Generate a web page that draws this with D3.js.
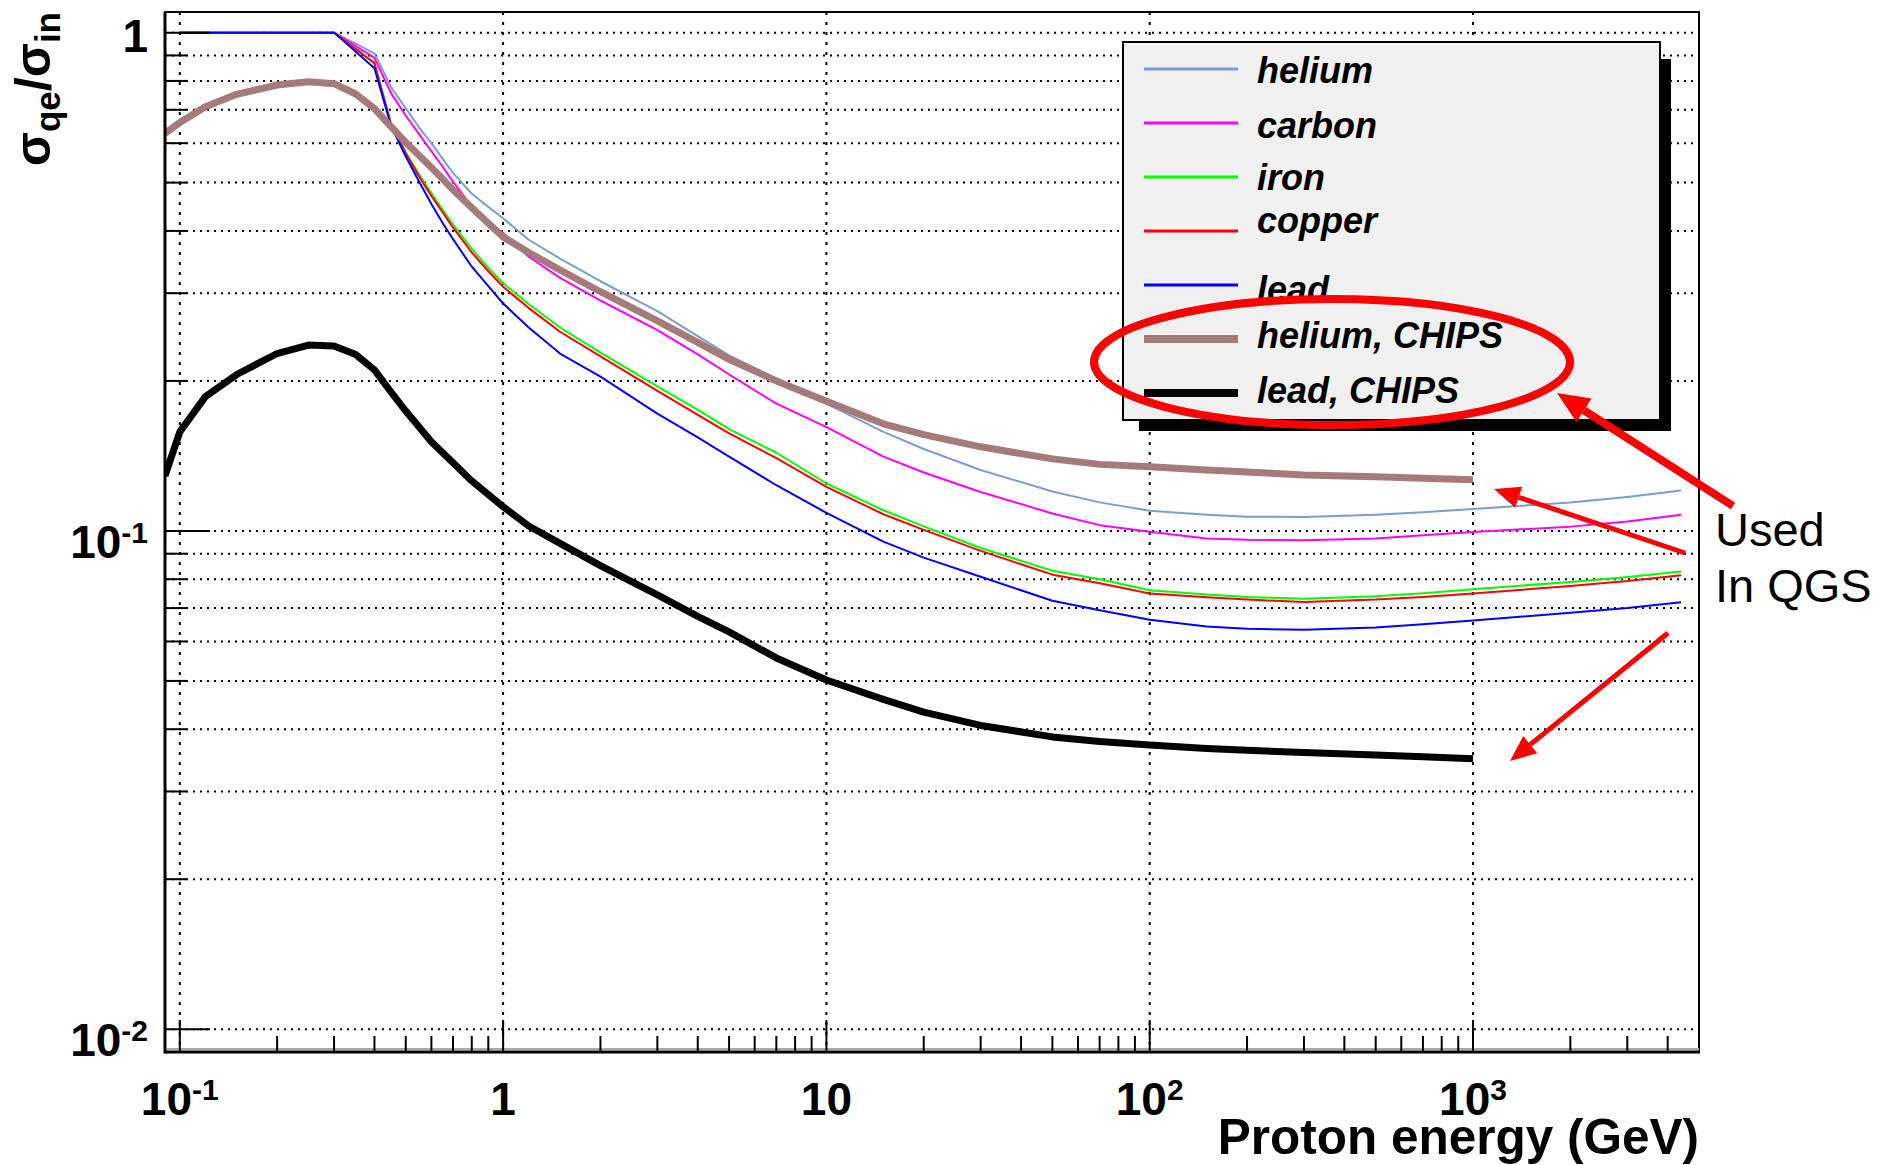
<!DOCTYPE html>
<meta charset="utf-8">
<style>
  body { margin: 0; background: #fff; }
  svg text { font-family: "Liberation Sans", Arial, sans-serif; }
</style>
<body></body>
<script src="https://d3js.org/d3.v7.min.js"></script>
<script>

// Glauber-type curves (helium ... lead)
var energies = [0.1, 0.2, 0.3, 0.4, 0.45, 0.5, 0.55, 0.6, 0.65, 0.7, 0.8, 0.9, 1, 1.2, 1.5, 2, 3, 4, 5, 7, 10, 15, 20, 30, 50, 70, 100, 150, 200, 300, 500, 700, 1000, 2000, 3000, 4400];
var helium = [1, 1, 1, 0.909, 0.778, 0.705, 0.645, 0.600, 0.558, 0.523, 0.475, 0.447, 0.424, 0.384, 0.352, 0.317, 0.276, 0.246, 0.225, 0.202, 0.180, 0.158, 0.146, 0.1325, 0.120, 0.1141, 0.1098, 0.1078, 0.1068, 0.1066, 0.1078, 0.109, 0.1107, 0.114, 0.117, 0.1205];
var carbon = [1, 1, 1, 0.89, 0.756, 0.681, 0.625, 0.578, 0.538, 0.502, 0.448, 0.417, 0.396, 0.355, 0.322, 0.290, 0.253, 0.226, 0.206, 0.180, 0.1615, 0.141, 0.131, 0.1197, 0.1084, 0.1027, 0.0996, 0.0966, 0.0960, 0.0958, 0.0965, 0.098, 0.0995, 0.102, 0.1045, 0.1078];
var iron = [1, 1, 1, 0.868, 0.658, 0.575, 0.519, 0.476, 0.441, 0.412, 0.368, 0.337, 0.314, 0.285, 0.256, 0.228, 0.195, 0.175, 0.160, 0.1435, 0.1245, 0.110, 0.1021, 0.0924, 0.0832, 0.0800, 0.0760, 0.0745, 0.0737, 0.0731, 0.0739, 0.0750, 0.0764, 0.0790, 0.0808, 0.0829];
var copper = [1, 1, 1, 0.868, 0.655, 0.572, 0.514, 0.470, 0.436, 0.406, 0.362, 0.332, 0.309, 0.280, 0.251, 0.224, 0.191, 0.171, 0.157, 0.140, 0.1226, 0.108, 0.1005, 0.0912, 0.0817, 0.0785, 0.0749, 0.0736, 0.0728, 0.0720, 0.0728, 0.0737, 0.0749, 0.0775, 0.0793, 0.0815];
var lead = [1, 1, 1, 0.848, 0.65, 0.564, 0.502, 0.453, 0.415, 0.385, 0.339, 0.310, 0.286, 0.256, 0.227, 0.204, 0.172, 0.154, 0.141, 0.1235, 0.1087, 0.0952, 0.0884, 0.0809, 0.0724, 0.0693, 0.0663, 0.0643, 0.0636, 0.0633, 0.0640, 0.0650, 0.0661, 0.0685, 0.0700, 0.0719];

// CHIPS curves
var chipsEnergies = [0.09, 0.1, 0.12, 0.15, 0.2, 0.25, 0.3, 0.35, 0.4, 0.45, 0.5, 0.6, 0.7, 0.8, 1, 1.2, 1.5, 2, 3, 4, 5, 7, 10, 15, 20, 30, 50, 70, 100, 150, 200, 300, 500, 700, 1000];
var heliumChips = [0.628, 0.66, 0.71, 0.752, 0.785, 0.797, 0.79, 0.753, 0.704, 0.648, 0.602, 0.536, 0.484, 0.445, 0.389, 0.362, 0.334, 0.302, 0.264, 0.239, 0.221, 0.200, 0.182, 0.164, 0.156, 0.1475, 0.1395, 0.136, 0.1345, 0.1325, 0.1313, 0.1295, 0.1285, 0.1276, 0.1267];
var leadChips = [0.129, 0.158, 0.186, 0.206, 0.227, 0.236, 0.235, 0.226, 0.2105, 0.190, 0.174, 0.151, 0.137, 0.126, 0.1118, 0.1023, 0.0944, 0.0852, 0.0744, 0.0674, 0.0627, 0.0556, 0.0502, 0.0459, 0.0433, 0.0407, 0.0386, 0.0378, 0.0372, 0.0366, 0.0363, 0.0359, 0.0355, 0.0352, 0.0349];

var seriesNames = ["helium", "carbon", "iron", "copper", "lead", "helium, CHIPS", "lead, CHIPS"];

var xTicks = [0.1, 1, 10, 100, 1000];
var xTickLabels = [["10", "-1"], ["1", ""], ["10", ""], ["10", "2"], ["10", "3"]];
var yTicks = [0.01, 0.1, 1];
var yTickLabels = [["10", "-2"], ["10", "-1"], ["1", ""]];

var W = 1879, H = 1165;
var frame = {left: 165, right: 1699, top: 12, bottom: 1052};

var svg = d3.select("body").append("svg")
    .attr("width", W)
    .attr("height", H);

var x = d3.scaleLog().domain([0.09, 5000]).range([frame.left, frame.right]);
var y = d3.scaleLog().domain([0.009, 1.1]).range([frame.bottom, frame.top]);

function isDecade(v) {
    var l = Math.log10(v);
    return Math.abs(l - Math.round(l)) < 1e-6;
}

// grid
var yMinor = y.ticks().filter(function(d) { return d >= 0.00999 && d <= 1.0001; });
var xMinor = x.ticks().filter(function(d) { return d >= 0.0999 && d < 4999; });

var grid = svg.append("g").attr("stroke", "#000").attr("stroke-width", 2);
grid.selectAll(".hg").data(yMinor).enter().append("line")
    .attr("x1", frame.left).attr("x2", frame.right)
    .attr("y1", function(d) { return y(d); })
    .attr("y2", function(d) { return y(d); })
    .attr("stroke-dasharray", "2,5");
grid.selectAll(".vg").data(xTicks).enter().append("line")
    .attr("y1", frame.top).attr("y2", frame.bottom)
    .attr("x1", function(d) { return x(d); })
    .attr("x2", function(d) { return x(d); })
    .attr("stroke-dasharray", "3,7");

// curves
svg.append("clipPath").attr("id", "clip").append("rect")
    .attr("x", frame.left).attr("y", frame.top)
    .attr("width", frame.right - frame.left).attr("height", frame.bottom - frame.top);

var series = [
    {name: seriesNames[0], xs: energies, ys: helium, color: "#7b9cd6", w: 2},
    {name: seriesNames[1], xs: energies, ys: carbon, color: "#ff00ff", w: 2},
    {name: seriesNames[2], xs: energies, ys: iron, color: "#00ff00", w: 2},
    {name: seriesNames[3], xs: energies, ys: copper, color: "#ff0000", w: 2},
    {name: seriesNames[4], xs: energies, ys: lead, color: "#0000ff", w: 2},
    {name: seriesNames[5], xs: chipsEnergies, ys: heliumChips, color: "#a47a7a", w: 7},
    {name: seriesNames[6], xs: chipsEnergies, ys: leadChips, color: "#000000", w: 7}
];

var line = d3.line()
    .x(function(d) { return x(d[0]); })
    .y(function(d) { return y(d[1]); });

svg.append("g").attr("clip-path", "url(#clip)")
    .selectAll("path").data(series).enter().append("path")
    .attr("d", function(s) { return line(d3.zip(s.xs, s.ys)); })
    .attr("fill", "none")
    .attr("stroke", function(s) { return s.color; })
    .attr("stroke-width", function(s) { return s.w; })
    .attr("stroke-linejoin", "round");

// frame and axes
svg.append("rect")
    .attr("x", frame.left).attr("y", frame.top)
    .attr("width", frame.right - frame.left).attr("height", frame.bottom - frame.top)
    .attr("fill", "none").attr("stroke", "#000").attr("stroke-width", 2);
svg.append("line").attr("x1", frame.left + 2).attr("x2", frame.right)
    .attr("y1", frame.bottom - 3).attr("y2", frame.bottom - 3)
    .attr("stroke", "#aaa").attr("stroke-width", 2);
svg.append("line").attr("x1", frame.left).attr("x2", frame.left)
    .attr("y1", frame.top).attr("y2", frame.bottom + 1.5)
    .attr("stroke", "#000").attr("stroke-width", 3);
svg.append("line").attr("x1", frame.left).attr("x2", frame.right + 1)
    .attr("y1", frame.bottom).attr("y2", frame.bottom)
    .attr("stroke", "#000").attr("stroke-width", 3);

var ticks = svg.append("g").attr("stroke", "#000").attr("stroke-width", 2);
ticks.selectAll(".yt").data(yMinor).enter().append("line")
    .attr("x1", frame.left)
    .attr("x2", function(d) { return frame.left + (isDecade(d) ? 45 : 22); })
    .attr("y1", function(d) { return y(d); })
    .attr("y2", function(d) { return y(d); });
ticks.selectAll(".xt").data(xMinor).enter().append("line")
    .attr("x1", function(d) { return x(d); })
    .attr("x2", function(d) { return x(d); })
    .attr("y1", frame.bottom)
    .attr("y2", function(d) { return frame.bottom - (isDecade(d) ? 32 : 16); });

// tick labels
function powerLabel(sel, lab) {
    sel.append("tspan").text(lab[0]);
    if (lab[1]) {
        sel.append("tspan").attr("dy", -15).style("font-size", "30px").text(lab[1]);
    }
}

xTicks.forEach(function(v, i) {
    var t = svg.append("text")
        .attr("x", x(v)).attr("y", 1115)
        .attr("text-anchor", "middle")
        .style("font-size", "46px").style("font-weight", "bold");
    powerLabel(t, xTickLabels[i]);
});

yTicks.forEach(function(v, i) {
    var lab = yTickLabels[i];
    var t = svg.append("text")
        .attr("x", 148).attr("y", y(v) + (lab[1] ? 27 : 19))
        .attr("text-anchor", "end")
        .style("font-size", "46px").style("font-weight", "bold");
    powerLabel(t, lab);
});

// axis titles
svg.append("text")
    .attr("x", frame.right).attr("y", 1154)
    .attr("text-anchor", "end")
    .style("font-size", "49.5px").style("font-weight", "bold")
    .text("Proton energy (GeV)");

var yt = svg.append("text")
    .attr("transform", "translate(50," + frame.top + ") rotate(-90)")
    .attr("text-anchor", "end")
    .style("font-size", "50px").style("font-weight", "bold");
yt.append("tspan").text("σ");
yt.append("tspan").attr("dy", 10).style("font-size", "35px").text("qe");
yt.append("tspan").attr("dy", -10).text("/σ");
yt.append("tspan").attr("dy", 10).style("font-size", "35px").text("in");

// legend
var lg = {left: 1123, top: 42, right: 1660, bottom: 420};
var legendDy = [14, 15, 13, 2, 17, 9, 10];
svg.append("rect")
    .attr("x", lg.left + 16).attr("y", lg.top + 17)
    .attr("width", lg.right - lg.left - 5).attr("height", lg.bottom - lg.top - 6)
    .attr("fill", "#000");
svg.append("rect")
    .attr("x", lg.left).attr("y", lg.top)
    .attr("width", lg.right - lg.left).attr("height", lg.bottom - lg.top)
    .attr("fill", "#f0f0f0").attr("stroke", "#000").attr("stroke-width", 2);

var rows = svg.append("g").selectAll("g").data(series).enter().append("g")
    .attr("transform", function(s, i) { return "translate(0," + (lg.top + 27 + i * 54) + ")"; });
rows.append("line")
    .attr("x1", 1144).attr("x2", 1238)
    .attr("stroke", function(s) { return s.color; })
    .attr("stroke-width", function(s) { return s.w === 2 ? 3 : 8; });
rows.append("text")
    .attr("x", 1257)
    .attr("y", function(s, i) { return legendDy[i]; })
    .style("font-size", "36px").style("font-weight", "bold").style("font-style", "italic")
    .text(function(s) { return s.name; });

// annotations
svg.append("ellipse")
    .attr("cx", 1332).attr("cy", 362).attr("rx", 238).attr("ry", 63)
    .attr("fill", "none").attr("stroke", "#ff0000").attr("stroke-width", 8);

var arrows = [
    {from: [1733, 506], to: [1557, 393], w: 8, len: 32, half: 14},
    {from: [1685, 553], to: [1494, 489], w: 5, len: 26, half: 11},
    {from: [1668, 633], to: [1510, 761], w: 5, len: 26, half: 11}
];
arrows.forEach(function(a) {
    var dx = a.to[0] - a.from[0], dy = a.to[1] - a.from[1];
    var L = Math.sqrt(dx * dx + dy * dy);
    var ux = dx / L, uy = dy / L;
    var bx = a.to[0] - ux * a.len, by = a.to[1] - uy * a.len;
    svg.append("line")
        .attr("x1", a.from[0]).attr("y1", a.from[1])
        .attr("x2", bx).attr("y2", by)
        .attr("stroke", "#ff0000").attr("stroke-width", a.w);
    svg.append("polygon")
        .attr("points", [
            [a.to[0], a.to[1]],
            [bx - uy * a.half, by + ux * a.half],
            [bx + uy * a.half, by - ux * a.half]
        ].map(function(p) { return p.join(","); }).join(" "))
        .attr("fill", "#ff0000");
});

svg.append("text").attr("x", 1715).attr("y", 546)
    .style("font-size", "47px").text("Used");
svg.append("text").attr("x", 1715).attr("y", 602)
    .style("font-size", "47px").text("In QGS");

</script>
